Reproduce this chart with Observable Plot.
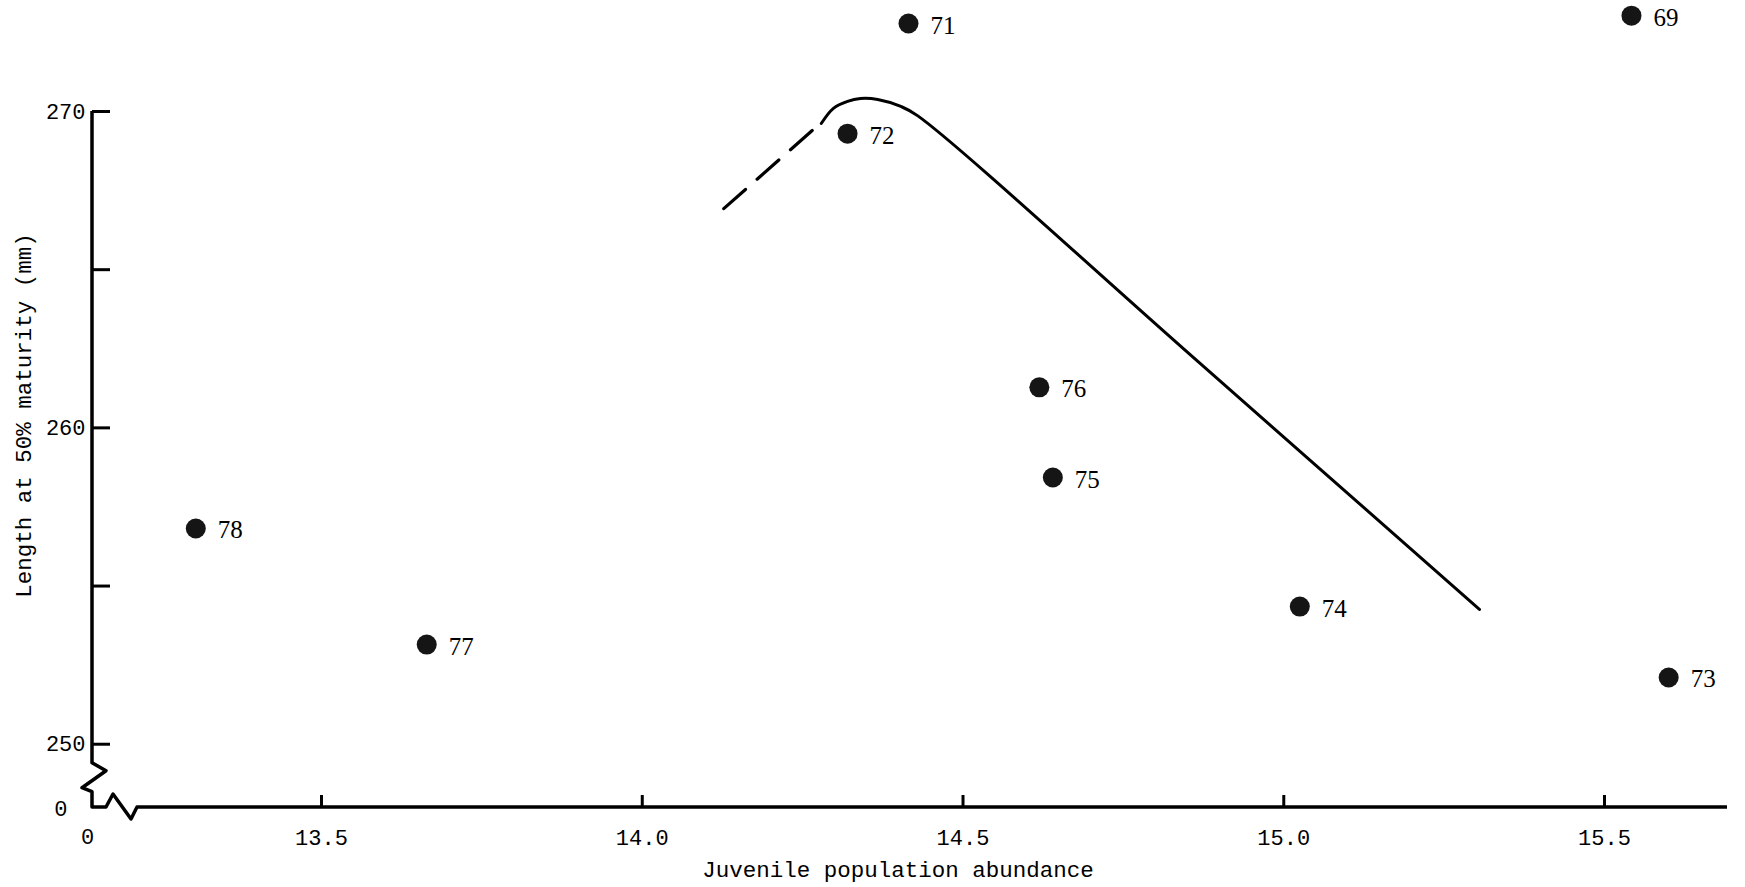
<!DOCTYPE html>
<html>
<head>
<meta charset="utf-8">
<script src="https://cdn.jsdelivr.net/npm/d3@7"></script>
<script src="https://cdn.jsdelivr.net/npm/@observablehq/plot@0.6"></script>
<style>
  html, body { margin: 0; padding: 0; background: #fff; }
  #chart svg { display: block; }
</style>
</head>
<body>
<div id="chart"></div>
<script>
// ---- data ----
const yearLabels = ["78", "77", "72", "71", "76", "75", "74", "73", "69"];
const abundance  = [13.304, 13.664, 14.320, 14.415, 14.619, 14.640, 15.025, 15.600, 15.542];
const lengthAt50 = [256.82, 253.15, 269.30, 272.78, 261.28, 258.43, 254.35, 252.11, 273.03];

// fitted curve (solid part) and its dashed extrapolation
const curveSolidX = [14.279, 14.298, 14.320, 14.340, 14.367, 14.403, 14.429, 14.870, 15.305];
const curveSolidY = [269.62, 270.10, 270.32, 270.41, 270.38, 270.16, 269.87, 262.03, 254.26];
const curveDashX  = [14.127, 14.265];
const curveDashY  = [266.93, 269.40];

const xTicks = [13.5, 14.0, 14.5, 15.0, 15.5];
const yTicks = [250, 255, 260, 265, 270];
const yTickLabels = [250, 260, 270];
const breakLabel = "0";
const xTitle = "Juvenile population abundance";
const yTitle = "Length at 50% maturity (mm)";

// ---- build tables ----
const points = yearLabels.map((lab, i) => ({lab, x: abundance[i], y: lengthAt50[i]}));
const solid = curveSolidX.map((x, i) => ({x, y: curveSolidY[i]}));
const dashed = curveDashX.map((x, i) => ({x, y: curveDashY[i]}));

const mono = "'Liberation Mono', 'DejaVu Sans Mono', monospace";
const serif = "'Liberation Serif', 'DejaVu Serif', serif";

const plot = Plot.plot({
  width: 1745,
  height: 887,
  marginLeft: 92,
  marginRight: 18,
  marginTop: 111,
  marginBottom: 80,
  x: {domain: [13.143, 15.6917]},
  y: {domain: [248, 270]},
  style: {background: "#fff", color: "#000", overflow: "visible"},
  marks: [
    Plot.axisX(xTicks, {
      tickSize: -12, tickPadding: 34, strokeWidth: 3,
      tickFormat: d => d.toFixed(1),
      fontFamily: mono, fontSize: 22, label: null
    }),
    Plot.axisY(yTicks, {
      tickSize: -18, tickPadding: 25, strokeWidth: 3,
      tickFormat: d => yTickLabels.includes(d) ? String(d) : "",
      fontFamily: mono, fontSize: 22, label: null
    }),
    // broken-axis zero labels
    Plot.text([breakLabel], {text: d => d, frameAnchor: "bottom-left", dx: -5, dy: 29,
      textAnchor: "middle", fontFamily: mono, fontSize: 22, lineAnchor: "middle"}),
    Plot.text([breakLabel], {text: d => d, frameAnchor: "bottom-left", dx: -25, dy: 1,
      textAnchor: "end", fontFamily: mono, fontSize: 22, lineAnchor: "middle"}),
    // axis titles
    Plot.text([xTitle], {text: d => d, frameAnchor: "bottom", dx: -12, dy: 62,
      textAnchor: "middle", fontFamily: mono, fontSize: 22.5, lineAnchor: "middle"}),
    Plot.text([yTitle], {text: d => d, frameAnchor: "left", dx: -68.5, dy: -44, rotate: -90,
      textAnchor: "middle", fontFamily: mono, fontSize: 22.5, lineAnchor: "middle"}),
    // curve
    Plot.line(dashed, {x: "x", y: "y", stroke: "#000", strokeWidth: 3.2, strokeDasharray: "29,15.5"}),
    Plot.line(solid, {x: "x", y: "y", stroke: "#000", strokeWidth: 3, curve: "catmull-rom"}),
    // observations
    Plot.dot(points, {x: "x", y: "y", r: 10, fill: "#151515", stroke: null}),
    Plot.text(points, {x: "x", y: "y", text: "lab", dx: 22, dy: 2, textAnchor: "start",
      fontFamily: serif, fontSize: 25, fill: "#000"})
  ]
});

// axis lines with the scale-break zig-zags (decoration tied to the scales)
const sx = plot.scale("x"), sy = plot.scale("y");
const x0 = sx.apply(sx.domain[0]);
const xEnd = sx.apply(sx.domain[1]);
const yb = sy.apply(sy.domain[0]);
const yTop = sy.apply(d3.max(yTicks));
const yBreak = sy.apply(d3.min(yTicks)) + 19;
const path = document.createElementNS("http://www.w3.org/2000/svg", "path");
path.setAttribute("d",
  `M${x0},${yTop}V${yBreak}l14,8l-24,17l10,4V${yb}h14l7,-13l18,25l6,-12H${xEnd}`);
path.setAttribute("fill", "none");
path.setAttribute("stroke", "#000");
path.setAttribute("stroke-width", "3.5");
path.setAttribute("stroke-linejoin", "round");
plot.appendChild(path);

document.getElementById("chart").appendChild(plot);
</script>
</body>
</html>
